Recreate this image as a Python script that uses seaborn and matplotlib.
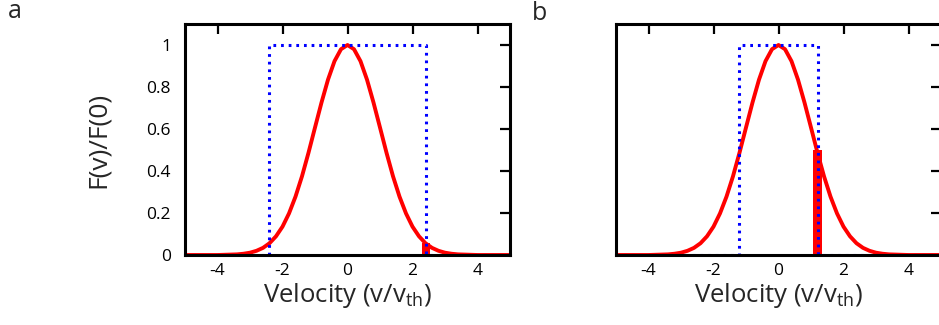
import numpy as np
import matplotlib
matplotlib.use("Agg")
import matplotlib.pyplot as plt
import seaborn as sns
import pandas as pd

sns.set_theme(style="white")
plt.rcParams['font.family'] = ['Open Sans', 'DejaVu Sans']
plt.rcParams['mathtext.default'] = 'regular'

# Maxwellian curve
velocity = [-5.0, -4.8, -4.6, -4.4, -4.2, -4.0, -3.8, -3.6, -3.4, -3.2, -3.0,
            -2.8, -2.6, -2.4, -2.2, -2.0, -1.8, -1.6, -1.4, -1.2, -1.0,
            -0.8, -0.6, -0.4, -0.2, 0.0, 0.2, 0.4, 0.6, 0.8, 1.0,
            1.2, 1.4, 1.6, 1.8, 2.0, 2.2, 2.4, 2.6, 2.8, 3.0,
            3.2, 3.4, 3.6, 3.8, 4.0, 4.2, 4.4, 4.6, 4.8, 5.0]
f_ratio = [0.000, 0.000, 0.000, 0.000, 0.000, 0.000, 0.001, 0.002, 0.003, 0.006, 0.011,
           0.020, 0.034, 0.056, 0.089, 0.135, 0.198, 0.278, 0.375, 0.487, 0.607,
           0.726, 0.835, 0.923, 0.980, 1.000, 0.980, 0.923, 0.835, 0.726, 0.607,
           0.487, 0.375, 0.278, 0.198, 0.135, 0.089, 0.056, 0.034, 0.020, 0.011,
           0.006, 0.003, 0.002, 0.001, 0.000, 0.000, 0.000, 0.000, 0.000, 0.000]

# dotted box (flat-top) distributions
box_a_v = [-5.0, -2.43, -2.43, 2.43, 2.43, 5.0]
box_b_v = [-5.0, -1.22, -1.22, 1.2, 1.2, 5.0]
box_f = [0, 0, 1, 1, 0, 0]

# highlighted red bars (position, height)
bar_a_v, bar_a_h = 2.42, 0.057
bar_b_v, bar_b_h = 1.2, 0.50

xticks = [-4, -2, 0, 2, 4]
xtick_labels = ["-4", "-2", "0", "2", "4"]
yticks = [0, 0.2, 0.4, 0.6, 0.8, 1.0]
ytick_labels = ["0", "0.2", "0.4", "0.6", "0.8", "1"]

W, H = 939, 325
fig = plt.figure(figsize=(W / 100, H / 100), dpi=100)
ax_a = fig.add_axes([185 / W, (H - 255) / H, 325 / W, 231 / H])
ax_b = fig.add_axes([616 / W, (H - 255) / H, 325 / W, 231 / H])

curve = pd.DataFrame({"v": velocity, "f": f_ratio})

for ax, bx, bv, bh, show_y in [(ax_a, box_a_v, bar_a_v, bar_a_h, True),
                               (ax_b, box_b_v, bar_b_v, bar_b_h, False)]:
    ax.bar([bv], [bh], width=0.25, color="red", linewidth=0, zorder=2)
    sns.lineplot(data=curve, x="v", y="f", ax=ax, color="red", lw=2.8,
                 estimator=None, sort=False, zorder=3)
    sns.lineplot(x=bx, y=box_f, ax=ax, color="blue", lw=2.2,
                 linestyle=(0, (0.9, 1.6)), estimator=None, sort=False, zorder=4)
    ax.set_xlim(-5, 5)
    ax.set_ylim(0, 1.1)
    ax.set_xticks(xticks)
    ax.set_xticklabels(xtick_labels)
    ax.set_yticks(yticks)
    if show_y:
        ax.set_yticklabels(ytick_labels)
        ax.set_ylabel("F(v)/F(0)", fontsize=19, labelpad=26)
    else:
        ax.set_yticklabels([])
        ax.set_ylabel("")
    ax.set_xlabel(r"Velocity (v/v$_{th}$)", fontsize=18.5, labelpad=1)
    ax.tick_params(direction="in", length=7, width=1.6, top=True, right=True,
                   labelsize=12.5, colors="black", pad=6)
    ax.tick_params(axis="y", pad=10)
    for s in ax.spines.values():
        s.set_color("black")
        s.set_linewidth(2.2)
        s.set_zorder(5)

fig.text(8 / W, 1 - 12 / H, "a", fontsize=18, ha="left", va="center")
fig.text(540 / W, 1 - 14 / H, "b", fontsize=18, ha="center", va="center")

fig.savefig("out.png", dpi=100)
